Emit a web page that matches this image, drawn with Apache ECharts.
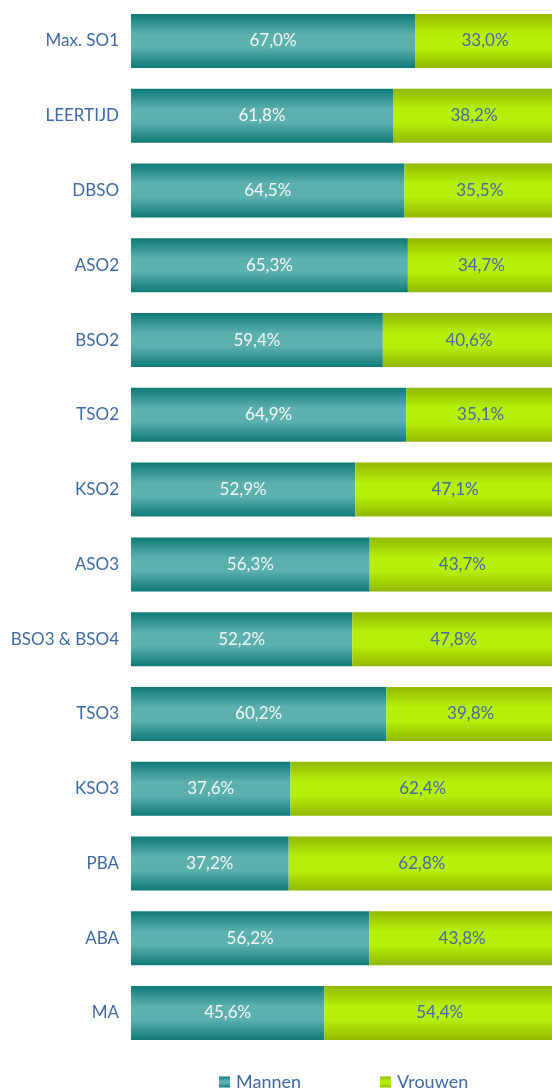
<!DOCTYPE html>
<html>
<head>
<meta charset="utf-8">
<script src="https://cdn.jsdelivr.net/npm/echarts@6/dist/echarts.min.js"></script>
<style>
  html, body { margin: 0; padding: 0; background: #fff; }
  #chart { width: 552px; height: 1090px; }
</style>
</head>
<body>
<div id="chart"></div>
<script>
// categories from top to bottom
const categories = ['Max. SO1', 'LEERTIJD', 'DBSO', 'ASO2', 'BSO2', 'TSO2', 'KSO2',
    'ASO3', 'BSO3 & BSO4', 'TSO3', 'KSO3', 'PBA', 'ABA', 'MA'];
const mannen = [67.0, 61.8, 64.5, 65.3, 59.4, 64.9, 52.9, 56.3, 52.2, 60.2, 37.6, 37.2, 56.2, 45.6];
const vrouwen = [33.0, 38.2, 35.5, 34.7, 40.6, 35.1, 47.1, 43.7, 47.8, 39.8, 62.4, 62.8, 43.8, 54.4];
const seriesNames = ['Mannen', 'Vrouwen'];

const fontFamily = 'Lato, "Open Sans", sans-serif';
const textBlue = '#3f6aa1';

function bandGradient(dark, light) {
    return new echarts.graphic.LinearGradient(0, 0, 0, 1, [
        { offset: 0, color: dark },
        { offset: 0.38, color: light },
        { offset: 0.62, color: light },
        { offset: 1, color: dark }
    ]);
}

const fmt = p => p.value.toFixed(1).replace('.', ',') + '%';

const chart = echarts.init(document.getElementById('chart'));
chart.setOption({
    animation: false,
    grid: {
        left: 131,
        width: 424,
        top: 3.6,
        height: 1046.8,
        outerBoundsMode: 'none',
        containLabel: false
    },
    legend: {
        top: 1073,
        left: 219,
        padding: 0,
        itemGap: 79,
        itemWidth: 11,
        itemHeight: 11,
        icon: 'rect',
        textStyle: { color: textBlue, fontSize: 18, fontFamily: fontFamily, padding: [0, 0, 0, 1] },
        data: seriesNames
    },
    xAxis: {
        type: 'value',
        min: 0,
        max: 100,
        show: false
    },
    yAxis: {
        type: 'category',
        inverse: true,
        data: categories,
        axisLine: { show: false },
        axisTick: { show: false },
        axisLabel: {
            margin: 12,
            color: textBlue,
            fontSize: 17,
            fontFamily: fontFamily
        }
    },
    series: [
        {
            name: seriesNames[0],
            type: 'bar',
            stack: 'total',
            barWidth: 54,
            data: mannen,
            itemStyle: { color: bandGradient('#0f7a77', '#5cb1ae') },
            label: {
                show: true,
                position: 'inside',
                color: '#f4f8f8',
                fontSize: 17,
                fontFamily: fontFamily,
                formatter: fmt
            }
        },
        {
            name: seriesNames[1],
            type: 'bar',
            stack: 'total',
            barWidth: 54,
            data: vrouwen,
            itemStyle: { color: bandGradient('#92b800', '#b6f00a') },
            label: {
                show: true,
                position: 'inside',
                color: '#4a6aa0',
                fontSize: 17,
                fontFamily: fontFamily,
                formatter: fmt
            }
        }
    ]
});
</script>
</body>
</html>
